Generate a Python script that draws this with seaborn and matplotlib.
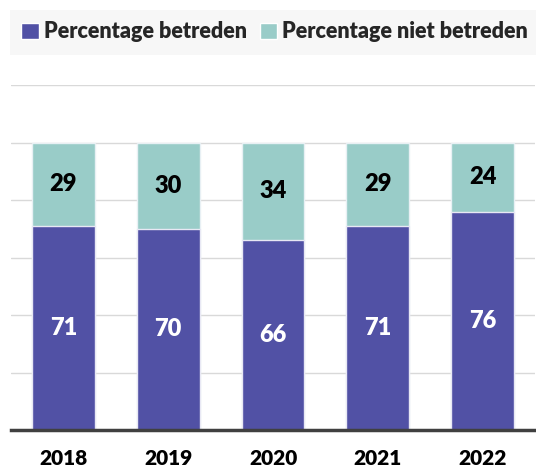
import matplotlib
matplotlib.use("Agg")
import matplotlib.pyplot as plt
import seaborn as sns
import pandas as pd
from matplotlib.patches import Rectangle, Patch

years = ["2018", "2019", "2020", "2021", "2022"]
betreden = [71, 70, 66, 71, 76]
niet_betreden = [29, 30, 34, 29, 24]
series_names = ["Percentage betreden", "Percentage niet betreden"]

purple = "#5151A5"
teal = "#99CCC8"

sns.set_theme(style="white")
plt.rcParams["font.family"] = ["Lato", "DejaVu Sans"]
W = "heavy"

df = pd.DataFrame({"year": years, "betreden": betreden, "niet": niet_betreden})
df["total"] = df["betreden"] + df["niet"]

fig = plt.figure(figsize=(5.36, 4.70), dpi=100)
ax = fig.add_axes([11/536, 1 - 430/470, 524/536, (430 - 85)/470])

sns.barplot(data=df, x="year", y="total", color=teal, width=0.6, ax=ax,
            edgecolor="#e8f0f4", linewidth=1, saturation=1)
sns.barplot(data=df, x="year", y="betreden", color=purple, width=0.6, ax=ax,
            edgecolor="#e8e8f4", linewidth=1, saturation=1)

for i, (b, n) in enumerate(zip(betreden, niet_betreden)):
    ax.text(i, b / 2, str(b), ha="center", va="center", color="white",
            fontsize=17, fontweight=W)
    ax.text(i, b + n / 2, str(n), ha="center", va="center", color="black",
            fontsize=17, fontweight=W)

ax.set_ylim(0, 120)
ax.set_xlim(-0.5, 4.5)
ax.set_yticks([0, 20, 40, 60, 80, 100, 120])
ax.set_yticklabels([])
ax.tick_params(axis="y", length=0)
ax.tick_params(axis="x", length=0, pad=14, labelsize=15)
for lab in ax.get_xticklabels():
    lab.set_fontweight(W)
    lab.set_color("black")
ax.set_xlabel("")
ax.set_ylabel("")
ax.grid(axis="y", color="#d9d9d9", linewidth=1)
ax.set_axisbelow(True)
for s in ["top", "left", "right"]:
    ax.spines[s].set_visible(False)
ax.spines["bottom"].set_color("#404040")
ax.spines["bottom"].set_linewidth(2.5)

fig.patches.append(Rectangle((10/536, 1 - 55/470), 526/536, 45/470,
                             transform=fig.transFigure, facecolor="#f7f7f7",
                             edgecolor="none", zorder=0))
handles = [Patch(facecolor=purple), Patch(facecolor=teal)]
leg = fig.legend(handles, series_names, loc="center left",
                 bbox_to_anchor=(2/536, 1 - 32/470), ncol=2, frameon=False,
                 handlelength=0.8, handleheight=0.8, handletextpad=0.25,
                 columnspacing=0.6, prop={"weight": W, "size": 15.5})

fig.savefig("out.png", dpi=100)
